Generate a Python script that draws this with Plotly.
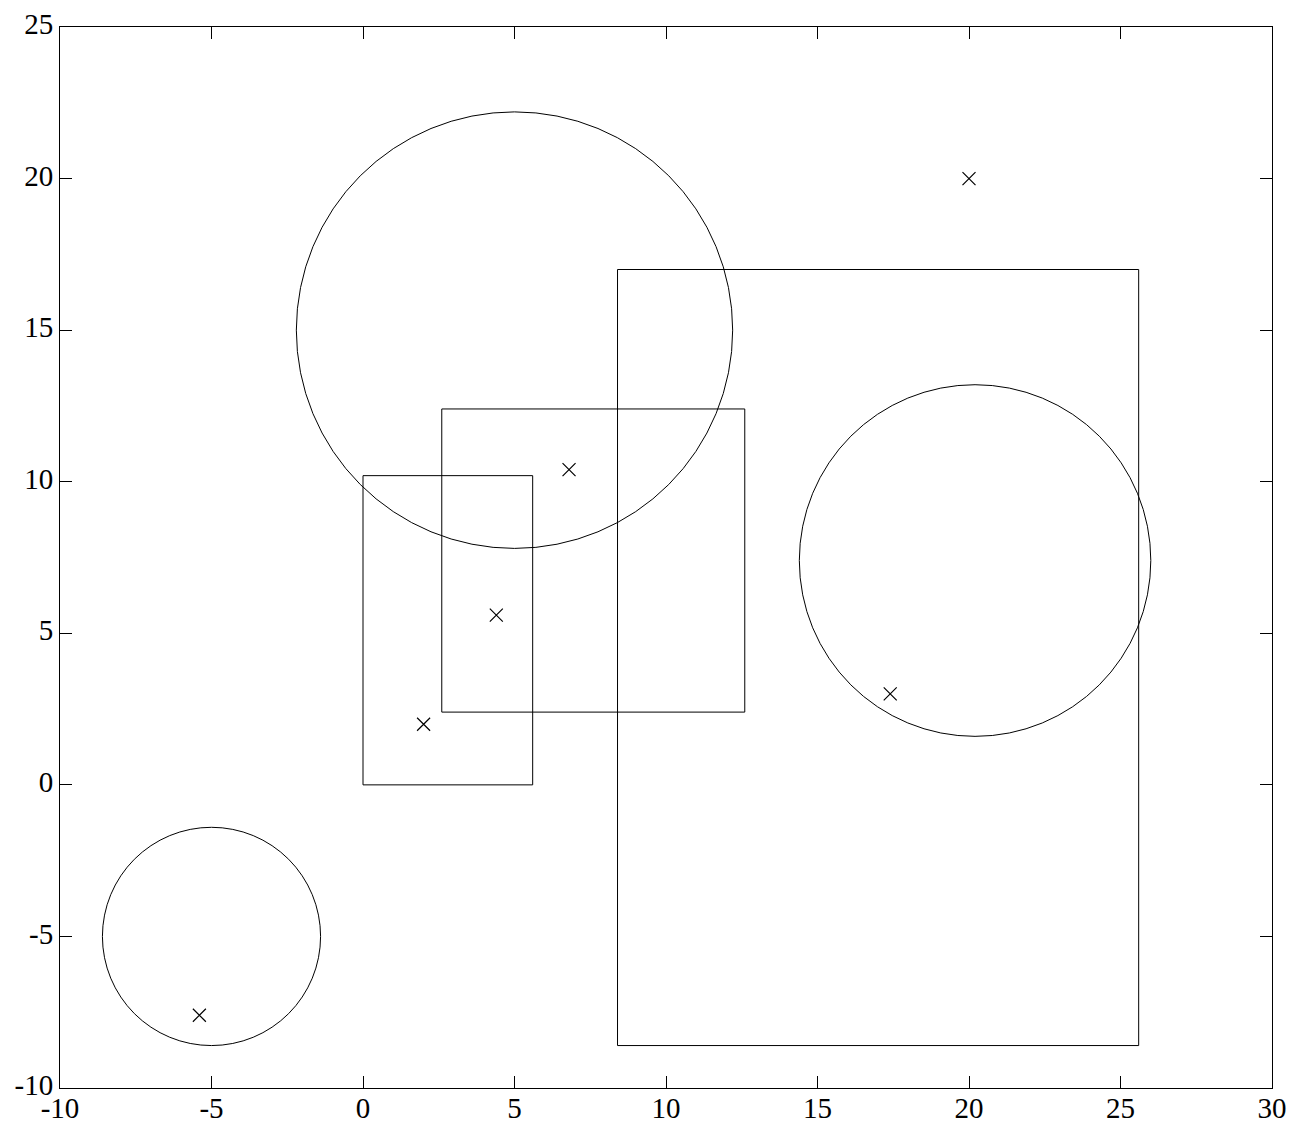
import plotly.graph_objects as go

# circles: centre x, centre y, radius
circle_cx = [5.0, 20.2, -5.0]
circle_cy = [15.0, 7.4, -5.0]
circle_r = [7.2, 5.8, 3.6]

# rectangles: x0, y0, x1, y1
rect_x0 = [0.0, 2.6, 8.4]
rect_y0 = [0.0, 2.4, -8.6]
rect_x1 = [5.6, 12.6, 25.6]
rect_y1 = [10.2, 12.4, 17.0]

# crosses
point_x = [2.0, 4.4, 6.8, 20.0, 17.4, -5.4]
point_y = [2.0, 5.6, 10.4, 20.0, 3.0, -7.6]

xticks = [-10, -5, 0, 5, 10, 15, 20, 25, 30]
yticks = [-10, -5, 0, 5, 10, 15, 20, 25]

fig = go.Figure()

fig.add_trace(go.Scatter(
    x=point_x, y=point_y, mode='markers',
    marker=dict(symbol='x-thin-open', size=13, color='black',
                line=dict(color='black', width=1.2)),
    showlegend=False, hoverinfo='skip'
))

shapes = []
for cx, cy, r in zip(circle_cx, circle_cy, circle_r):
    shapes.append(dict(type='circle', xref='x', yref='y',
                       x0=cx - r, y0=cy - r, x1=cx + r, y1=cy + r,
                       line=dict(color='black', width=1)))
for x0, y0, x1, y1 in zip(rect_x0, rect_y0, rect_x1, rect_y1):
    shapes.append(dict(type='rect', xref='x', yref='y',
                       x0=x0, y0=y0, x1=x1, y1=y1,
                       line=dict(color='black', width=1)))

axis_style = dict(
    showgrid=False, zeroline=False, showline=True, mirror='ticks',
    linecolor='black', linewidth=1, ticks='inside', ticklen=12,
    tickcolor='black', tickwidth=1, automargin=False,
    ticklabeloverflow='allow',
    tickfont=dict(family='Liberation Serif, serif', size=29, color='black'),
)

# page body adds ~8px offset, so the figure is shifted by that much
fig.update_layout(
    width=1293, height=1118,
    margin=dict(l=52, r=29, t=19, b=38),
    paper_bgcolor='white', plot_bgcolor='white',
    shapes=shapes,
    xaxis=dict(range=[-10, 30], tickvals=xticks, ticklabelstandoff=-6,
               ticktext=[str(v) for v in xticks], **axis_style),
    yaxis=dict(range=[-10, 25], tickvals=yticks, ticklabelshift=-3,
               ticktext=[str(v) for v in yticks], **axis_style),
)

fig.write_html("out.html")
